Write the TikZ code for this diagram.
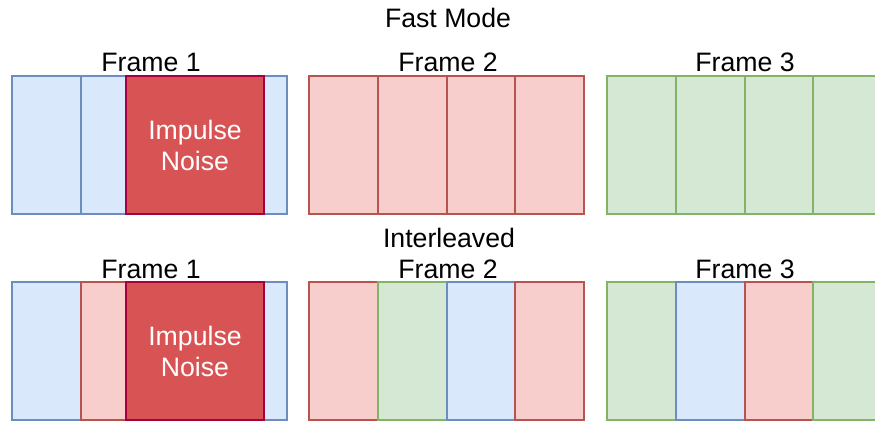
\documentclass[tikz,border=0pt]{standalone}
\usepackage{fontspec}
\setmainfont{Liberation Sans}
\usetikzlibrary{positioning}
\definecolor{cellblue}{HTML}{DAE8FC}
\definecolor{lineblue}{HTML}{6C8EBF}
\definecolor{cellred}{HTML}{F8CECC}
\definecolor{linered}{HTML}{B85450}
\definecolor{cellgreen}{HTML}{D5E8D4}
\definecolor{linegreen}{HTML}{82B366}
\definecolor{noisered}{HTML}{D85454}
\definecolor{noiseline}{HTML}{A50040}

\begin{document}
\begin{tikzpicture}[
    x=0.75pt, y=-0.75pt,
    every node/.style={font=\fontsize{20}{23.25}\selectfont},
    cell/.style={rectangle, anchor=north west, inner sep=0pt, line width=1.5pt,
                 minimum width=51.56pt, minimum height=103.5pt},
    bcell/.style={cell, draw=lineblue, fill=cellblue},
    rcell/.style={cell, draw=linered, fill=cellred},
    gcell/.style={cell, draw=linegreen, fill=cellgreen},
    noise/.style={cell, draw=noiseline, fill=noisered, minimum width=103.5pt,
                  align=center, text=white},
    ttl/.style={anchor=base, inner sep=0pt},
  ]
    \useasboundingbox (0,0) rectangle (875,421);
    \clip (0,0) rectangle (875,421);
    % row titles
    \node[ttl] (fastttl) at (448,27) {Fast Mode};
    \node[ttl] (intlttl) at (449,247) {Interleaved};
    % fast mode row
    \foreach \f/\xa/\c in {1/11/bcell, 2/308/rcell, 3/606/gcell} {
      \foreach \k in {0,...,3}
        \node[\c] (fast\f\k) at ({\xa+68.75*\k},75) {};
    }
    % interleaved row
    \foreach \f/\xa/\ca/\cb/\cc/\cd in {1/11/bcell/rcell/gcell/bcell,
        2/308/rcell/gcell/bcell/rcell, 3/606/gcell/bcell/rcell/gcell} {
      \foreach \c [count=\k from 0] in {\ca,\cb,\cc,\cd}
        \node[\c] (intl\f\k) at ({\xa+68.75*\k},281) {};
    }
    % frame titles
    \foreach \f/\xa in {1/151, 2/448, 3/745} {
      \node[ttl] (fastf\f) at (\xa,71) {Frame \f};
      \node[ttl] (intlf\f) at (\xa,278) {Frame \f};
    }
    % impulse noise on top
    \node[noise] (imp1) at (125,75) {Impulse\\Noise};
    \node[noise] (imp2) at (125,281) {Impulse\\Noise};
  \end{tikzpicture}
\end{document}
